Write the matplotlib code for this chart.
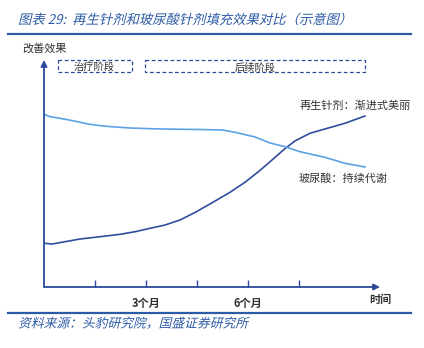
import matplotlib.pyplot as plt
from matplotlib.patches import Rectangle
from matplotlib.patheffects import AbstractPathEffect
from matplotlib.transforms import Affine2D

plt.rcParams["font.family"] = ["Noto Sans CJK SC", "DejaVu Sans"]

# months on the x axis, effect score on the y axis (arbitrary units)
filler_months = [0, 0.24, 0.62, 1.06, 1.65, 2.24, 2.68, 3.12, 3.56, 4.0, 4.44, 4.88,
                 5.47, 5.91, 6.35, 6.79, 7.09, 7.38, 7.82, 8.26, 8.85, 9.44]
filler_effect = [43.7, 43, 45.3, 48, 50.3, 52.7, 55.3, 58.7, 62, 67, 74.5, 83,
                 94.7, 104.7, 116.5, 129.5, 138.5, 146, 153.7, 158, 163.7, 171]

ha_months = [0, 0.18, 0.47, 0.85, 1.29, 1.65, 2.09, 2.53, 3.12, 3.85, 4.59, 5.24,
             5.62, 6.21, 6.65, 7.09, 7.53, 8.26, 8.85, 9.44]
ha_effect = [172.7, 170.3, 168.7, 166.3, 163, 161.3, 160, 159, 158.3, 157.8, 157.5, 157,
             154.7, 150, 144, 140.3, 135.3, 129.7, 123.7, 120]

tick_months = [1.5, 3, 4.5, 6, 7.5]
tick_labels = ["", "3个月", "", "6个月", ""]

title = "图表 29:  再生针剂和玻尿酸针剂填充效果对比（示意图）"
source = "资料来源：头豹研究院，国盛证券研究所"

DARK = "#2F4E9E"
LIGHT = "#5DA2E4"
AXIS = "#2B4A98"
TITLE_BLUE = "#2C5BA6"
TEXT = "#333333"


class Slant(AbstractPathEffect):
    """Fake italic for CJK glyphs by shearing the text path."""

    def draw_path(self, renderer, gc, tpath, affine, rgbFace=None):
        renderer.draw_path(gc, tpath, Affine2D().skew_deg(14, 0) + affine, rgbFace)


W, H = 424, 348
fig = plt.figure(figsize=(W / 100, H / 100), dpi=100)

# full-figure layer in pixel units for the frame decorations
bg = fig.add_axes([0, 0, 1, 1])
bg.set_xlim(0, W)
bg.set_ylim(H, 0)
bg.axis("off")

bg.text(18, 20, title, fontsize=9.6, color=TITLE_BLUE, va="center", ha="left",
        path_effects=[Slant()])
bg.plot([8, 411], [34, 34], color=TITLE_BLUE, lw=1.6)
bg.plot([8, 411], [313, 313], color=TITLE_BLUE, lw=1.6)
bg.text(18, 324, source, fontsize=9.2, color=TITLE_BLUE, va="center", ha="left",
        path_effects=[Slant()])

bg.text(22, 48, "改善效果", fontsize=8, color=TEXT, va="center", ha="left")

# stage boxes above the curves
for x0, x1, label in [(57.5, 131.5, "治疗阶段"), (145, 365, "后续阶段")]:
    bg.add_patch(Rectangle((x0, 60), x1 - x0, 12, fill=False, ec=AXIS, lw=0.9,
                           ls=(0, (3, 2)), zorder=1))
    bg.text((x0 + x1) / 2, 70.4, label, fontsize=7.4, color=TEXT, ha="center",
            va="baseline", zorder=2)

# plot area
left, right, top, bottom = 44, 380, 60, 287
ax = fig.add_axes([left / W, 1 - bottom / H, (right - left) / W, (bottom - top) / H])
ax.set_xlim(0, (right - left) / 34)
ax.set_ylim(0, bottom - top)
for s in ax.spines.values():
    s.set_visible(False)
ax.patch.set_alpha(0)

ax.plot(filler_months, filler_effect, color=DARK, lw=1.2)
ax.plot(ha_months, ha_effect, color=LIGHT, lw=1.2)

ax.annotate("", xy=(0, 1.0), xytext=(0, 0), xycoords="axes fraction",
            arrowprops=dict(arrowstyle="-|>", color=AXIS, lw=1.3, mutation_scale=9, shrinkA=0, shrinkB=0))
ax.annotate("", xy=(1.0, 0), xytext=(0, 0), xycoords="axes fraction",
            arrowprops=dict(arrowstyle="-|>", color=AXIS, lw=1.3, mutation_scale=9, shrinkA=0, shrinkB=0))

ax.set_xticks(tick_months)
ax.set_xticklabels(tick_labels, fontsize=8, color=TEXT, fontweight="bold")
ax.tick_params(axis="x", direction="in", length=5, width=1, color=AXIS, pad=7)
ax.set_yticks([])

ax.text(1.0, -12 / (bottom - top), "时间", transform=ax.transAxes, fontsize=8,
        color=TEXT, ha="center", va="center", fontweight="bold")

bg.text(411, 106, "再生针剂：渐进式美丽", fontsize=8, color=TEXT, ha="right", va="center")
bg.text(388, 179, "玻尿酸：持续代谢", fontsize=8, color=TEXT, ha="right", va="center")

fig.savefig("out.png", dpi=100)
